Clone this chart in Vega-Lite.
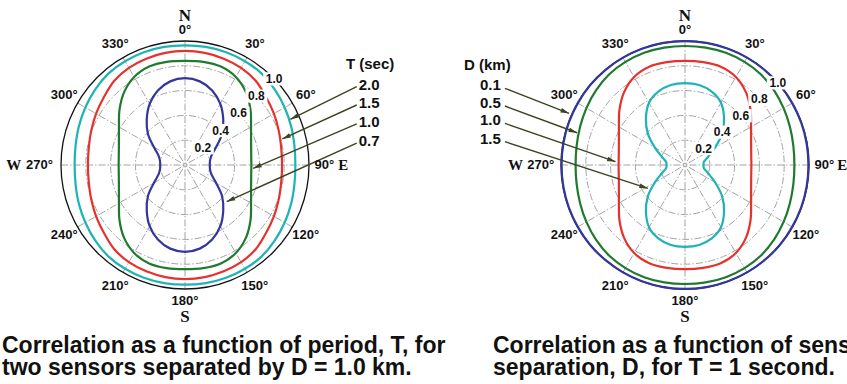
{
  "$schema": "https://vega.github.io/schema/vega-lite/v6.json",
  "background": "white",
  "padding": 0,
  "spacing": 153,
  "bounds": "flush",
  "config": {
    "view": {"stroke": null},
    "title": {"font": "Liberation Sans", "fontSize": 23, "fontWeight": "bold", "color": "#111111", "anchor": "start", "frame": "group", "orient": "bottom", "lineHeight": 22, "offset": 5, "baseline": "top"},
    "text": {"font": "Liberation Sans", "fontWeight": "bold", "color": "#111111"}
  },
  "datasets": {
    "rings": [{"r": 0.2}, {"r": 0.4}, {"r": 0.6}, {"r": 0.8}],
    "outer": [{"r": 1}],
    "spokes": [{"a": 0}, {"a": 30}, {"a": 60}, {"a": 90}, {"a": 120}, {"a": 150}, {"a": 180}, {"a": 210}, {"a": 240}, {"a": 270}, {"a": 300}, {"a": 330}],
    "rlabels": [{"v": 0.2}, {"v": 0.4}, {"v": 0.6}, {"v": 0.8}, {"v": 1.0}],
    "degrees": [{"a": 30, "t": "30°"}, {"a": 60, "t": "60°"}, {"a": 120, "t": "120°"}, {"a": 150, "t": "150°"}, {"a": 210, "t": "210°"}, {"a": 240, "t": "240°"}, {"a": 300, "t": "300°"}, {"a": 330, "t": "330°"}],
    "left_keys": [
      {"period": "2.0", "x1": 1.385, "y1": 0.633, "x2": 0.85, "y2": 0.369},
      {"period": "1.5", "x1": 1.385, "y1": 0.484, "x2": 0.785, "y2": 0.21},
      {"period": "1.0", "x1": 1.385, "y1": 0.331, "x2": 0.55, "y2": -0.027},
      {"period": "0.7", "x1": 1.385, "y1": 0.177, "x2": 0.336, "y2": -0.296}
    ],
    "right_keys": [
      {"sep": "0.1", "x1": -1.452, "y1": 0.618, "x2": -0.935, "y2": 0.417},
      {"sep": "0.5", "x1": -1.452, "y1": 0.476, "x2": -0.87, "y2": 0.26},
      {"sep": "1.0", "x1": -1.452, "y1": 0.336, "x2": -0.56, "y2": 0.027},
      {"sep": "1.5", "x1": -1.452, "y1": 0.188, "x2": -0.3, "y2": -0.188}
    ],
    "left_curves": [
      {"period": "2.0", "a": 0, "r": 0.965}, {"period": "2.0", "a": 10, "r": 0.967}, {"period": "2.0", "a": 20, "r": 0.968}, {"period": "2.0", "a": 30, "r": 0.967}, {"period": "2.0", "a": 40, "r": 0.962}, {"period": "2.0", "a": 50, "r": 0.946}, {"period": "2.0", "a": 60, "r": 0.928}, {"period": "2.0", "a": 70, "r": 0.911}, {"period": "2.0", "a": 80, "r": 0.896}, {"period": "2.0", "a": 90, "r": 0.89},
      {"period": "2.0", "a": 100, "r": 0.896}, {"period": "2.0", "a": 110, "r": 0.911}, {"period": "2.0", "a": 120, "r": 0.928}, {"period": "2.0", "a": 130, "r": 0.946}, {"period": "2.0", "a": 140, "r": 0.962}, {"period": "2.0", "a": 150, "r": 0.967}, {"period": "2.0", "a": 160, "r": 0.968}, {"period": "2.0", "a": 170, "r": 0.967}, {"period": "2.0", "a": 180, "r": 0.965},
      {"period": "2.0", "a": 190, "r": 0.967}, {"period": "2.0", "a": 200, "r": 0.968}, {"period": "2.0", "a": 210, "r": 0.967}, {"period": "2.0", "a": 220, "r": 0.962}, {"period": "2.0", "a": 230, "r": 0.946}, {"period": "2.0", "a": 240, "r": 0.928}, {"period": "2.0", "a": 250, "r": 0.911}, {"period": "2.0", "a": 260, "r": 0.896}, {"period": "2.0", "a": 270, "r": 0.89},
      {"period": "2.0", "a": 280, "r": 0.896}, {"period": "2.0", "a": 290, "r": 0.911}, {"period": "2.0", "a": 300, "r": 0.928}, {"period": "2.0", "a": 310, "r": 0.946}, {"period": "2.0", "a": 320, "r": 0.962}, {"period": "2.0", "a": 330, "r": 0.967}, {"period": "2.0", "a": 340, "r": 0.968}, {"period": "2.0", "a": 350, "r": 0.967},

      {"period": "1.5", "a": 0, "r": 0.92}, {"period": "1.5", "a": 10, "r": 0.918}, {"period": "1.5", "a": 20, "r": 0.913}, {"period": "1.5", "a": 30, "r": 0.905}, {"period": "1.5", "a": 40, "r": 0.887}, {"period": "1.5", "a": 50, "r": 0.853}, {"period": "1.5", "a": 60, "r": 0.828}, {"period": "1.5", "a": 70, "r": 0.805}, {"period": "1.5", "a": 80, "r": 0.788}, {"period": "1.5", "a": 90, "r": 0.783},
      {"period": "1.5", "a": 100, "r": 0.788}, {"period": "1.5", "a": 110, "r": 0.805}, {"period": "1.5", "a": 120, "r": 0.828}, {"period": "1.5", "a": 130, "r": 0.853}, {"period": "1.5", "a": 140, "r": 0.887}, {"period": "1.5", "a": 150, "r": 0.905}, {"period": "1.5", "a": 160, "r": 0.913}, {"period": "1.5", "a": 170, "r": 0.918}, {"period": "1.5", "a": 180, "r": 0.92},
      {"period": "1.5", "a": 190, "r": 0.918}, {"period": "1.5", "a": 200, "r": 0.913}, {"period": "1.5", "a": 210, "r": 0.905}, {"period": "1.5", "a": 220, "r": 0.887}, {"period": "1.5", "a": 230, "r": 0.853}, {"period": "1.5", "a": 240, "r": 0.828}, {"period": "1.5", "a": 250, "r": 0.805}, {"period": "1.5", "a": 260, "r": 0.788}, {"period": "1.5", "a": 270, "r": 0.783},
      {"period": "1.5", "a": 280, "r": 0.788}, {"period": "1.5", "a": 290, "r": 0.805}, {"period": "1.5", "a": 300, "r": 0.828}, {"period": "1.5", "a": 310, "r": 0.853}, {"period": "1.5", "a": 320, "r": 0.887}, {"period": "1.5", "a": 330, "r": 0.905}, {"period": "1.5", "a": 340, "r": 0.913}, {"period": "1.5", "a": 350, "r": 0.918},

      {"period": "1.0", "a": 0, "r": 0.84}, {"period": "1.0", "a": 10, "r": 0.845}, {"period": "1.0", "a": 20, "r": 0.845}, {"period": "1.0", "a": 30, "r": 0.82}, {"period": "1.0", "a": 40, "r": 0.765}, {"period": "1.0", "a": 50, "r": 0.69}, {"period": "1.0", "a": 60, "r": 0.615}, {"period": "1.0", "a": 70, "r": 0.567}, {"period": "1.0", "a": 80, "r": 0.542}, {"period": "1.0", "a": 90, "r": 0.535},
      {"period": "1.0", "a": 100, "r": 0.542}, {"period": "1.0", "a": 110, "r": 0.567}, {"period": "1.0", "a": 120, "r": 0.615}, {"period": "1.0", "a": 130, "r": 0.69}, {"period": "1.0", "a": 140, "r": 0.765}, {"period": "1.0", "a": 150, "r": 0.82}, {"period": "1.0", "a": 160, "r": 0.845}, {"period": "1.0", "a": 170, "r": 0.845}, {"period": "1.0", "a": 180, "r": 0.84},
      {"period": "1.0", "a": 190, "r": 0.845}, {"period": "1.0", "a": 200, "r": 0.845}, {"period": "1.0", "a": 210, "r": 0.82}, {"period": "1.0", "a": 220, "r": 0.765}, {"period": "1.0", "a": 230, "r": 0.69}, {"period": "1.0", "a": 240, "r": 0.615}, {"period": "1.0", "a": 250, "r": 0.567}, {"period": "1.0", "a": 260, "r": 0.542}, {"period": "1.0", "a": 270, "r": 0.535},
      {"period": "1.0", "a": 280, "r": 0.542}, {"period": "1.0", "a": 290, "r": 0.567}, {"period": "1.0", "a": 300, "r": 0.615}, {"period": "1.0", "a": 310, "r": 0.69}, {"period": "1.0", "a": 320, "r": 0.765}, {"period": "1.0", "a": 330, "r": 0.82}, {"period": "1.0", "a": 340, "r": 0.845}, {"period": "1.0", "a": 350, "r": 0.845},

      {"period": "0.7", "a": 0, "r": 0.7}, {"period": "0.7", "a": 10, "r": 0.685}, {"period": "0.7", "a": 20, "r": 0.64}, {"period": "0.7", "a": 30, "r": 0.57}, {"period": "0.7", "a": 40, "r": 0.48}, {"period": "0.7", "a": 50, "r": 0.39}, {"period": "0.7", "a": 60, "r": 0.29}, {"period": "0.7", "a": 70, "r": 0.228}, {"period": "0.7", "a": 80, "r": 0.205}, {"period": "0.7", "a": 90, "r": 0.2},
      {"period": "0.7", "a": 100, "r": 0.205}, {"period": "0.7", "a": 110, "r": 0.228}, {"period": "0.7", "a": 120, "r": 0.29}, {"period": "0.7", "a": 130, "r": 0.39}, {"period": "0.7", "a": 140, "r": 0.48}, {"period": "0.7", "a": 150, "r": 0.57}, {"period": "0.7", "a": 160, "r": 0.64}, {"period": "0.7", "a": 170, "r": 0.685}, {"period": "0.7", "a": 180, "r": 0.7},
      {"period": "0.7", "a": 190, "r": 0.685}, {"period": "0.7", "a": 200, "r": 0.64}, {"period": "0.7", "a": 210, "r": 0.57}, {"period": "0.7", "a": 220, "r": 0.48}, {"period": "0.7", "a": 230, "r": 0.39}, {"period": "0.7", "a": 240, "r": 0.29}, {"period": "0.7", "a": 250, "r": 0.228}, {"period": "0.7", "a": 260, "r": 0.205}, {"period": "0.7", "a": 270, "r": 0.2},
      {"period": "0.7", "a": 280, "r": 0.205}, {"period": "0.7", "a": 290, "r": 0.228}, {"period": "0.7", "a": 300, "r": 0.29}, {"period": "0.7", "a": 310, "r": 0.39}, {"period": "0.7", "a": 320, "r": 0.48}, {"period": "0.7", "a": 330, "r": 0.57}, {"period": "0.7", "a": 340, "r": 0.64}, {"period": "0.7", "a": 350, "r": 0.685}
    ],
    "right_curves": [
      {"sep": "0.1", "a": 0, "r": 1.0}, {"sep": "0.1", "a": 10, "r": 1.0}, {"sep": "0.1", "a": 20, "r": 1.0}, {"sep": "0.1", "a": 30, "r": 1.0}, {"sep": "0.1", "a": 40, "r": 1.0}, {"sep": "0.1", "a": 50, "r": 1.0}, {"sep": "0.1", "a": 60, "r": 0.998}, {"sep": "0.1", "a": 70, "r": 0.997}, {"sep": "0.1", "a": 80, "r": 0.996}, {"sep": "0.1", "a": 90, "r": 0.995},
      {"sep": "0.1", "a": 100, "r": 0.996}, {"sep": "0.1", "a": 110, "r": 0.997}, {"sep": "0.1", "a": 120, "r": 0.998}, {"sep": "0.1", "a": 130, "r": 1.0}, {"sep": "0.1", "a": 140, "r": 1.0}, {"sep": "0.1", "a": 150, "r": 1.0}, {"sep": "0.1", "a": 160, "r": 1.0}, {"sep": "0.1", "a": 170, "r": 1.0}, {"sep": "0.1", "a": 180, "r": 1.0},
      {"sep": "0.1", "a": 190, "r": 1.0}, {"sep": "0.1", "a": 200, "r": 1.0}, {"sep": "0.1", "a": 210, "r": 1.0}, {"sep": "0.1", "a": 220, "r": 1.0}, {"sep": "0.1", "a": 230, "r": 1.0}, {"sep": "0.1", "a": 240, "r": 0.998}, {"sep": "0.1", "a": 250, "r": 0.997}, {"sep": "0.1", "a": 260, "r": 0.996}, {"sep": "0.1", "a": 270, "r": 0.995},
      {"sep": "0.1", "a": 280, "r": 0.996}, {"sep": "0.1", "a": 290, "r": 0.997}, {"sep": "0.1", "a": 300, "r": 0.998}, {"sep": "0.1", "a": 310, "r": 1.0}, {"sep": "0.1", "a": 320, "r": 1.0}, {"sep": "0.1", "a": 330, "r": 1.0}, {"sep": "0.1", "a": 340, "r": 1.0}, {"sep": "0.1", "a": 350, "r": 1.0},

      {"sep": "0.5", "a": 0, "r": 0.96}, {"sep": "0.5", "a": 10, "r": 0.962}, {"sep": "0.5", "a": 20, "r": 0.963}, {"sep": "0.5", "a": 30, "r": 0.96}, {"sep": "0.5", "a": 40, "r": 0.953}, {"sep": "0.5", "a": 50, "r": 0.937}, {"sep": "0.5", "a": 60, "r": 0.918}, {"sep": "0.5", "a": 70, "r": 0.9}, {"sep": "0.5", "a": 80, "r": 0.887}, {"sep": "0.5", "a": 90, "r": 0.882},
      {"sep": "0.5", "a": 100, "r": 0.887}, {"sep": "0.5", "a": 110, "r": 0.9}, {"sep": "0.5", "a": 120, "r": 0.918}, {"sep": "0.5", "a": 130, "r": 0.937}, {"sep": "0.5", "a": 140, "r": 0.953}, {"sep": "0.5", "a": 150, "r": 0.96}, {"sep": "0.5", "a": 160, "r": 0.963}, {"sep": "0.5", "a": 170, "r": 0.962}, {"sep": "0.5", "a": 180, "r": 0.96},
      {"sep": "0.5", "a": 190, "r": 0.962}, {"sep": "0.5", "a": 200, "r": 0.963}, {"sep": "0.5", "a": 210, "r": 0.96}, {"sep": "0.5", "a": 220, "r": 0.953}, {"sep": "0.5", "a": 230, "r": 0.937}, {"sep": "0.5", "a": 240, "r": 0.918}, {"sep": "0.5", "a": 250, "r": 0.9}, {"sep": "0.5", "a": 260, "r": 0.887}, {"sep": "0.5", "a": 270, "r": 0.882},
      {"sep": "0.5", "a": 280, "r": 0.887}, {"sep": "0.5", "a": 290, "r": 0.9}, {"sep": "0.5", "a": 300, "r": 0.918}, {"sep": "0.5", "a": 310, "r": 0.937}, {"sep": "0.5", "a": 320, "r": 0.953}, {"sep": "0.5", "a": 330, "r": 0.96}, {"sep": "0.5", "a": 340, "r": 0.963}, {"sep": "0.5", "a": 350, "r": 0.962},

      {"sep": "1.0", "a": 0, "r": 0.84}, {"sep": "1.0", "a": 10, "r": 0.842}, {"sep": "1.0", "a": 20, "r": 0.843}, {"sep": "1.0", "a": 30, "r": 0.82}, {"sep": "1.0", "a": 40, "r": 0.765}, {"sep": "1.0", "a": 50, "r": 0.69}, {"sep": "1.0", "a": 60, "r": 0.615}, {"sep": "1.0", "a": 70, "r": 0.567}, {"sep": "1.0", "a": 80, "r": 0.542}, {"sep": "1.0", "a": 90, "r": 0.535},
      {"sep": "1.0", "a": 100, "r": 0.542}, {"sep": "1.0", "a": 110, "r": 0.567}, {"sep": "1.0", "a": 120, "r": 0.615}, {"sep": "1.0", "a": 130, "r": 0.69}, {"sep": "1.0", "a": 140, "r": 0.765}, {"sep": "1.0", "a": 150, "r": 0.82}, {"sep": "1.0", "a": 160, "r": 0.843}, {"sep": "1.0", "a": 170, "r": 0.842}, {"sep": "1.0", "a": 180, "r": 0.84},
      {"sep": "1.0", "a": 190, "r": 0.842}, {"sep": "1.0", "a": 200, "r": 0.843}, {"sep": "1.0", "a": 210, "r": 0.82}, {"sep": "1.0", "a": 220, "r": 0.765}, {"sep": "1.0", "a": 230, "r": 0.69}, {"sep": "1.0", "a": 240, "r": 0.615}, {"sep": "1.0", "a": 250, "r": 0.567}, {"sep": "1.0", "a": 260, "r": 0.542}, {"sep": "1.0", "a": 270, "r": 0.535},
      {"sep": "1.0", "a": 280, "r": 0.542}, {"sep": "1.0", "a": 290, "r": 0.567}, {"sep": "1.0", "a": 300, "r": 0.615}, {"sep": "1.0", "a": 310, "r": 0.69}, {"sep": "1.0", "a": 320, "r": 0.765}, {"sep": "1.0", "a": 330, "r": 0.82}, {"sep": "1.0", "a": 340, "r": 0.843}, {"sep": "1.0", "a": 350, "r": 0.842},

      {"sep": "1.5", "a": 0, "r": 0.66}, {"sep": "1.5", "a": 10, "r": 0.655}, {"sep": "1.5", "a": 20, "r": 0.63}, {"sep": "1.5", "a": 30, "r": 0.58}, {"sep": "1.5", "a": 40, "r": 0.49}, {"sep": "1.5", "a": 50, "r": 0.39}, {"sep": "1.5", "a": 60, "r": 0.28}, {"sep": "1.5", "a": 70, "r": 0.2}, {"sep": "1.5", "a": 80, "r": 0.155}, {"sep": "1.5", "a": 90, "r": 0.15},
      {"sep": "1.5", "a": 100, "r": 0.155}, {"sep": "1.5", "a": 110, "r": 0.2}, {"sep": "1.5", "a": 120, "r": 0.28}, {"sep": "1.5", "a": 130, "r": 0.39}, {"sep": "1.5", "a": 140, "r": 0.49}, {"sep": "1.5", "a": 150, "r": 0.58}, {"sep": "1.5", "a": 160, "r": 0.63}, {"sep": "1.5", "a": 170, "r": 0.655}, {"sep": "1.5", "a": 180, "r": 0.66},
      {"sep": "1.5", "a": 190, "r": 0.655}, {"sep": "1.5", "a": 200, "r": 0.63}, {"sep": "1.5", "a": 210, "r": 0.58}, {"sep": "1.5", "a": 220, "r": 0.49}, {"sep": "1.5", "a": 230, "r": 0.39}, {"sep": "1.5", "a": 240, "r": 0.28}, {"sep": "1.5", "a": 250, "r": 0.2}, {"sep": "1.5", "a": 260, "r": 0.155}, {"sep": "1.5", "a": 270, "r": 0.15},
      {"sep": "1.5", "a": 280, "r": 0.155}, {"sep": "1.5", "a": 290, "r": 0.2}, {"sep": "1.5", "a": 300, "r": 0.28}, {"sep": "1.5", "a": 310, "r": 0.39}, {"sep": "1.5", "a": 320, "r": 0.49}, {"sep": "1.5", "a": 330, "r": 0.58}, {"sep": "1.5", "a": 340, "r": 0.63}, {"sep": "1.5", "a": 350, "r": 0.655}
    ]
  },
  "resolve": {"scale": {"x": "independent", "y": "independent", "color": "independent"}},
  "hconcat": [
    {
      "width": 370,
      "height": 330,
      "title": {"text": ["Correlation as a function of period, T, for", "two sensors separated by D = 1.0 km."], "dx": 2},
      "data": {"values": [{}]},
      "layer": [
        {
          "data": {"name": "rings"},
          "mark": {"type": "point", "shape": "circle", "filled": false, "fill": null, "stroke": "#8c8c8c", "strokeWidth": 0.8, "strokeDash": [7, 2, 1.5, 2], "opacity": 1},
          "encoding": {
            "x": {"datum": 0, "type": "quantitative", "scale": {"domain": [-1.492, 1.492]}, "axis": null},
            "y": {"datum": 0, "type": "quantitative", "scale": {"domain": [-1.331, 1.331]}, "axis": null},
            "size": {"field": "r", "type": "quantitative", "scale": {"type": "pow", "exponent": 2, "domain": [0, 1], "range": [0, 61504]}, "legend": null}
          }
        },
        {
          "data": {"name": "spokes"},
          "transform": [
            {"calculate": "sin(datum.a * PI / 180)", "as": "ex"},
            {"calculate": "cos(datum.a * PI / 180)", "as": "ey"}
          ],
          "mark": {"type": "rule", "stroke": "#8c8c8c", "strokeWidth": 0.8, "strokeDash": [7, 2, 1.5, 2]},
          "encoding": {
            "x": {"field": "ex", "type": "quantitative", "scale": {"domain": [-1.492, 1.492]}, "axis": null},
            "y": {"field": "ey", "type": "quantitative", "scale": {"domain": [-1.331, 1.331]}, "axis": null},
            "x2": {"datum": 0},
            "y2": {"datum": 0}
          }
        },
        {
          "data": {"name": "outer"},
          "mark": {"type": "point", "shape": "circle", "filled": false, "fill": null, "stroke": "#111111", "strokeWidth": 1.3, "opacity": 1},
          "encoding": {
            "x": {"datum": 0, "type": "quantitative", "scale": {"domain": [-1.492, 1.492]}, "axis": null},
            "y": {"datum": 0, "type": "quantitative", "scale": {"domain": [-1.331, 1.331]}, "axis": null},
            "size": {"field": "r", "type": "quantitative", "scale": {"type": "pow", "exponent": 2, "domain": [0, 1], "range": [0, 61504]}, "legend": null}
          }
        },
        {
          "data": {"name": "left_curves"},
          "transform": [
            {"calculate": "datum.r * sin(datum.a * PI / 180)", "as": "x"},
            {"calculate": "datum.r * cos(datum.a * PI / 180)", "as": "y"}
          ],
          "mark": {"type": "line", "interpolate": "cardinal-closed", "strokeWidth": 2.2},
          "encoding": {
            "x": {"field": "x", "type": "quantitative", "scale": {"domain": [-1.492, 1.492]}, "axis": null},
            "y": {"field": "y", "type": "quantitative", "scale": {"domain": [-1.331, 1.331]}, "axis": null},
            "color": {"field": "period", "type": "nominal", "scale": {"domain": ["2.0", "1.5", "1.0", "0.7"], "range": ["#1fb3b5", "#e4322d", "#1f7a30", "#33369a"]}, "legend": null},
            "order": {"field": "a", "type": "quantitative"}
          }
        },
        {
          "data": {"name": "left_keys"},
          "mark": {"type": "rule", "stroke": "#3a4522", "strokeWidth": 1.4},
          "encoding": {
            "x": {"field": "x1", "type": "quantitative", "scale": {"domain": [-1.492, 1.492]}, "axis": null},
            "y": {"field": "y1", "type": "quantitative", "scale": {"domain": [-1.331, 1.331]}, "axis": null},
            "x2": {"field": "x2"},
            "y2": {"field": "y2"}
          }
        },
        {
          "data": {"name": "left_keys"},
          "transform": [{"calculate": "atan2(datum.y1 - datum.y2, datum.x2 - datum.x1) * 180 / PI + 90", "as": "heading"}],
          "mark": {"type": "point", "shape": "M0,0L-0.55,2L0.55,2Z", "filled": true, "fill": "#3a4522", "size": 72, "opacity": 1},
          "encoding": {
            "x": {"field": "x2", "type": "quantitative", "scale": {"domain": [-1.492, 1.492]}, "axis": null},
            "y": {"field": "y2", "type": "quantitative", "scale": {"domain": [-1.331, 1.331]}, "axis": null},
            "angle": {"field": "heading", "type": "quantitative", "scale": null}
          }
        },
        {
          "data": {"name": "rlabels"},
          "transform": [
            {"calculate": "datum.v * sin(46 * PI / 180)", "as": "x"},
            {"calculate": "datum.v * cos(46 * PI / 180)", "as": "y"}
          ],
          "mark": {"type": "point", "shape": "M-1,-0.6H1V0.6H-1Z", "filled": true, "fill": "white", "size": 484, "opacity": 1},
          "encoding": {
            "x": {"field": "x", "type": "quantitative", "scale": {"domain": [-1.492, 1.492]}, "axis": null},
            "y": {"field": "y", "type": "quantitative", "scale": {"domain": [-1.331, 1.331]}, "axis": null}
          }
        },
        {
          "data": {"name": "rlabels"},
          "transform": [
            {"calculate": "datum.v * sin(46 * PI / 180)", "as": "x"},
            {"calculate": "datum.v * cos(46 * PI / 180)", "as": "y"}
          ],
          "mark": {"type": "text", "fontSize": 12, "align": "center", "baseline": "middle"},
          "encoding": {
            "x": {"field": "x", "type": "quantitative", "scale": {"domain": [-1.492, 1.492]}, "axis": null},
            "y": {"field": "y", "type": "quantitative", "scale": {"domain": [-1.331, 1.331]}, "axis": null},
            "text": {"field": "v", "type": "quantitative", "format": ".1f"}
          }
        },
        {
          "data": {"name": "degrees"},
          "transform": [
            {"calculate": "1.125 * sin(datum.a * PI / 180)", "as": "x"},
            {"calculate": "1.125 * cos(datum.a * PI / 180)", "as": "y"}
          ],
          "mark": {"type": "text", "fontSize": 13, "align": "center", "baseline": "middle"},
          "encoding": {
            "x": {"field": "x", "type": "quantitative", "scale": {"domain": [-1.492, 1.492]}, "axis": null},
            "y": {"field": "y", "type": "quantitative", "scale": {"domain": [-1.331, 1.331]}, "axis": null},
            "text": {"field": "t"}
          }
        },
        {
          "mark": {"type": "text", "text": "0°", "fontSize": 13, "align": "center", "baseline": "middle"},
          "encoding": {
            "x": {"datum": 0, "type": "quantitative", "scale": {"domain": [-1.492, 1.492]}, "axis": null},
            "y": {"datum": 1.085, "type": "quantitative", "scale": {"domain": [-1.331, 1.331]}, "axis": null}
          }
        },
        {
          "mark": {"type": "text", "text": "180°", "fontSize": 13, "align": "center", "baseline": "middle"},
          "encoding": {
            "x": {"datum": 0, "type": "quantitative", "scale": {"domain": [-1.492, 1.492]}, "axis": null},
            "y": {"datum": -1.1, "type": "quantitative", "scale": {"domain": [-1.331, 1.331]}, "axis": null}
          }
        },
        {
          "mark": {"type": "text", "text": "90°", "fontSize": 13, "align": "left", "baseline": "middle"},
          "encoding": {
            "x": {"datum": 1.045, "type": "quantitative", "scale": {"domain": [-1.492, 1.492]}, "axis": null},
            "y": {"datum": 0, "type": "quantitative", "scale": {"domain": [-1.331, 1.331]}, "axis": null}
          }
        },
        {
          "mark": {"type": "text", "text": "270°", "fontSize": 13, "align": "right", "baseline": "middle"},
          "encoding": {
            "x": {"datum": -1.065, "type": "quantitative", "scale": {"domain": [-1.492, 1.492]}, "axis": null},
            "y": {"datum": 0, "type": "quantitative", "scale": {"domain": [-1.331, 1.331]}, "axis": null}
          }
        },
        {
          "mark": {"type": "text", "text": "N", "font": "Liberation Serif", "fontSize": 17, "align": "center", "baseline": "middle"},
          "encoding": {
            "x": {"datum": 0, "type": "quantitative", "scale": {"domain": [-1.492, 1.492]}, "axis": null},
            "y": {"datum": 1.2, "type": "quantitative", "scale": {"domain": [-1.331, 1.331]}, "axis": null}
          }
        },
        {
          "mark": {"type": "text", "text": "S", "font": "Liberation Serif", "fontSize": 17, "align": "center", "baseline": "middle"},
          "encoding": {
            "x": {"datum": 0, "type": "quantitative", "scale": {"domain": [-1.492, 1.492]}, "axis": null},
            "y": {"datum": -1.23, "type": "quantitative", "scale": {"domain": [-1.331, 1.331]}, "axis": null}
          }
        },
        {
          "mark": {"type": "text", "text": "E", "font": "Liberation Serif", "fontSize": 15, "align": "left", "baseline": "middle"},
          "encoding": {
            "x": {"datum": 1.235, "type": "quantitative", "scale": {"domain": [-1.492, 1.492]}, "axis": null},
            "y": {"datum": 0, "type": "quantitative", "scale": {"domain": [-1.331, 1.331]}, "axis": null}
          }
        },
        {
          "mark": {"type": "text", "text": "W", "font": "Liberation Serif", "fontSize": 15, "align": "right", "baseline": "middle"},
          "encoding": {
            "x": {"datum": -1.32, "type": "quantitative", "scale": {"domain": [-1.492, 1.492]}, "axis": null},
            "y": {"datum": 0, "type": "quantitative", "scale": {"domain": [-1.331, 1.331]}, "axis": null}
          }
        },
        {
          "data": {"name": "left_keys"},
          "mark": {"type": "text", "fontSize": 15, "align": "left", "baseline": "middle", "dx": 2, "dy": -2},
          "encoding": {
            "x": {"field": "x1", "type": "quantitative", "scale": {"domain": [-1.492, 1.492]}, "axis": null},
            "y": {"field": "y1", "type": "quantitative", "scale": {"domain": [-1.331, 1.331]}, "axis": null},
            "text": {"field": "period"}
          }
        },
        {
          "mark": {"type": "text", "text": "T (sec)", "fontSize": 15, "align": "left", "baseline": "middle"},
          "encoding": {
            "x": {"datum": 1.298, "type": "quantitative", "scale": {"domain": [-1.492, 1.492]}, "axis": null},
            "y": {"datum": 0.815, "type": "quantitative", "scale": {"domain": [-1.331, 1.331]}, "axis": null}
          }
        }
      ]
    },
    {
      "width": 324,
      "height": 330,
      "title": {"text": ["Correlation as a function of sensor", "separation, D, for T = 1 second."], "dx": -30},
      "data": {"values": [{}]},
      "layer": [
        {
          "data": {"name": "rings"},
          "mark": {"type": "point", "shape": "circle", "filled": false, "fill": null, "stroke": "#8c8c8c", "strokeWidth": 0.8, "strokeDash": [7, 2, 1.5, 2], "opacity": 1},
          "encoding": {
            "x": {"datum": 0, "type": "quantitative", "scale": {"domain": [-1.306, 1.306]}, "axis": null},
            "y": {"datum": 0, "type": "quantitative", "scale": {"domain": [-1.331, 1.331]}, "axis": null},
            "size": {"field": "r", "type": "quantitative", "scale": {"type": "pow", "exponent": 2, "domain": [0, 1], "range": [0, 61504]}, "legend": null}
          }
        },
        {
          "data": {"name": "spokes"},
          "transform": [
            {"calculate": "sin(datum.a * PI / 180)", "as": "ex"},
            {"calculate": "cos(datum.a * PI / 180)", "as": "ey"}
          ],
          "mark": {"type": "rule", "stroke": "#8c8c8c", "strokeWidth": 0.8, "strokeDash": [7, 2, 1.5, 2]},
          "encoding": {
            "x": {"field": "ex", "type": "quantitative", "scale": {"domain": [-1.306, 1.306]}, "axis": null},
            "y": {"field": "ey", "type": "quantitative", "scale": {"domain": [-1.331, 1.331]}, "axis": null},
            "x2": {"datum": 0},
            "y2": {"datum": 0}
          }
        },
        {
          "data": {"name": "outer"},
          "mark": {"type": "point", "shape": "circle", "filled": false, "fill": null, "stroke": "#111111", "strokeWidth": 1.3, "opacity": 1},
          "encoding": {
            "x": {"datum": 0, "type": "quantitative", "scale": {"domain": [-1.306, 1.306]}, "axis": null},
            "y": {"datum": 0, "type": "quantitative", "scale": {"domain": [-1.331, 1.331]}, "axis": null},
            "size": {"field": "r", "type": "quantitative", "scale": {"type": "pow", "exponent": 2, "domain": [0, 1], "range": [0, 61504]}, "legend": null}
          }
        },
        {
          "data": {"name": "right_curves"},
          "transform": [
            {"calculate": "datum.r * sin(datum.a * PI / 180)", "as": "x"},
            {"calculate": "datum.r * cos(datum.a * PI / 180)", "as": "y"}
          ],
          "mark": {"type": "line", "interpolate": "cardinal-closed", "strokeWidth": 2.2},
          "encoding": {
            "x": {"field": "x", "type": "quantitative", "scale": {"domain": [-1.306, 1.306]}, "axis": null},
            "y": {"field": "y", "type": "quantitative", "scale": {"domain": [-1.331, 1.331]}, "axis": null},
            "color": {"field": "sep", "type": "nominal", "scale": {"domain": ["0.1", "0.5", "1.0", "1.5"], "range": ["#33369a", "#1f7a30", "#e4322d", "#1fb3b5"]}, "legend": null},
            "order": {"field": "a", "type": "quantitative"}
          }
        },
        {
          "data": {"name": "right_keys"},
          "mark": {"type": "rule", "stroke": "#3a4522", "strokeWidth": 1.4},
          "encoding": {
            "x": {"field": "x1", "type": "quantitative", "scale": {"domain": [-1.306, 1.306]}, "axis": null},
            "y": {"field": "y1", "type": "quantitative", "scale": {"domain": [-1.331, 1.331]}, "axis": null},
            "x2": {"field": "x2"},
            "y2": {"field": "y2"}
          }
        },
        {
          "data": {"name": "right_keys"},
          "transform": [{"calculate": "atan2(datum.y1 - datum.y2, datum.x2 - datum.x1) * 180 / PI + 90", "as": "heading"}],
          "mark": {"type": "point", "shape": "M0,0L-0.55,2L0.55,2Z", "filled": true, "fill": "#3a4522", "size": 72, "opacity": 1},
          "encoding": {
            "x": {"field": "x2", "type": "quantitative", "scale": {"domain": [-1.306, 1.306]}, "axis": null},
            "y": {"field": "y2", "type": "quantitative", "scale": {"domain": [-1.331, 1.331]}, "axis": null},
            "angle": {"field": "heading", "type": "quantitative", "scale": null}
          }
        },
        {
          "data": {"name": "rlabels"},
          "transform": [
            {"calculate": "datum.v * sin(48.5 * PI / 180)", "as": "x"},
            {"calculate": "datum.v * cos(48.5 * PI / 180)", "as": "y"}
          ],
          "mark": {"type": "point", "shape": "M-1,-0.6H1V0.6H-1Z", "filled": true, "fill": "white", "size": 484, "opacity": 1},
          "encoding": {
            "x": {"field": "x", "type": "quantitative", "scale": {"domain": [-1.306, 1.306]}, "axis": null},
            "y": {"field": "y", "type": "quantitative", "scale": {"domain": [-1.331, 1.331]}, "axis": null}
          }
        },
        {
          "data": {"name": "rlabels"},
          "transform": [
            {"calculate": "datum.v * sin(48.5 * PI / 180)", "as": "x"},
            {"calculate": "datum.v * cos(48.5 * PI / 180)", "as": "y"}
          ],
          "mark": {"type": "text", "fontSize": 12, "align": "center", "baseline": "middle"},
          "encoding": {
            "x": {"field": "x", "type": "quantitative", "scale": {"domain": [-1.306, 1.306]}, "axis": null},
            "y": {"field": "y", "type": "quantitative", "scale": {"domain": [-1.331, 1.331]}, "axis": null},
            "text": {"field": "v", "type": "quantitative", "format": ".1f"}
          }
        },
        {
          "data": {"name": "degrees"},
          "transform": [
            {"calculate": "1.125 * sin(datum.a * PI / 180)", "as": "x"},
            {"calculate": "1.125 * cos(datum.a * PI / 180)", "as": "y"}
          ],
          "mark": {"type": "text", "fontSize": 13, "align": "center", "baseline": "middle"},
          "encoding": {
            "x": {"field": "x", "type": "quantitative", "scale": {"domain": [-1.306, 1.306]}, "axis": null},
            "y": {"field": "y", "type": "quantitative", "scale": {"domain": [-1.331, 1.331]}, "axis": null},
            "text": {"field": "t"}
          }
        },
        {
          "mark": {"type": "text", "text": "0°", "fontSize": 13, "align": "center", "baseline": "middle"},
          "encoding": {
            "x": {"datum": 0, "type": "quantitative", "scale": {"domain": [-1.306, 1.306]}, "axis": null},
            "y": {"datum": 1.085, "type": "quantitative", "scale": {"domain": [-1.331, 1.331]}, "axis": null}
          }
        },
        {
          "mark": {"type": "text", "text": "180°", "fontSize": 13, "align": "center", "baseline": "middle"},
          "encoding": {
            "x": {"datum": 0, "type": "quantitative", "scale": {"domain": [-1.306, 1.306]}, "axis": null},
            "y": {"datum": -1.1, "type": "quantitative", "scale": {"domain": [-1.331, 1.331]}, "axis": null}
          }
        },
        {
          "mark": {"type": "text", "text": "90°", "fontSize": 13, "align": "left", "baseline": "middle"},
          "encoding": {
            "x": {"datum": 1.045, "type": "quantitative", "scale": {"domain": [-1.306, 1.306]}, "axis": null},
            "y": {"datum": 0, "type": "quantitative", "scale": {"domain": [-1.331, 1.331]}, "axis": null}
          }
        },
        {
          "mark": {"type": "text", "text": "270°", "fontSize": 13, "align": "right", "baseline": "middle"},
          "encoding": {
            "x": {"datum": -1.055, "type": "quantitative", "scale": {"domain": [-1.306, 1.306]}, "axis": null},
            "y": {"datum": 0, "type": "quantitative", "scale": {"domain": [-1.331, 1.331]}, "axis": null}
          }
        },
        {
          "mark": {"type": "text", "text": "N", "font": "Liberation Serif", "fontSize": 17, "align": "center", "baseline": "middle"},
          "encoding": {
            "x": {"datum": 0, "type": "quantitative", "scale": {"domain": [-1.306, 1.306]}, "axis": null},
            "y": {"datum": 1.2, "type": "quantitative", "scale": {"domain": [-1.331, 1.331]}, "axis": null}
          }
        },
        {
          "mark": {"type": "text", "text": "S", "font": "Liberation Serif", "fontSize": 17, "align": "center", "baseline": "middle"},
          "encoding": {
            "x": {"datum": 0, "type": "quantitative", "scale": {"domain": [-1.306, 1.306]}, "axis": null},
            "y": {"datum": -1.23, "type": "quantitative", "scale": {"domain": [-1.331, 1.331]}, "axis": null}
          }
        },
        {
          "mark": {"type": "text", "text": "E", "font": "Liberation Serif", "fontSize": 15, "align": "left", "baseline": "middle"},
          "encoding": {
            "x": {"datum": 1.228, "type": "quantitative", "scale": {"domain": [-1.306, 1.306]}, "axis": null},
            "y": {"datum": 0, "type": "quantitative", "scale": {"domain": [-1.331, 1.331]}, "axis": null}
          }
        },
        {
          "mark": {"type": "text", "text": "W", "font": "Liberation Serif", "fontSize": 15, "align": "right", "baseline": "middle"},
          "encoding": {
            "x": {"datum": -1.306, "type": "quantitative", "scale": {"domain": [-1.306, 1.306]}, "axis": null},
            "y": {"datum": 0, "type": "quantitative", "scale": {"domain": [-1.331, 1.331]}, "axis": null}
          }
        },
        {
          "data": {"name": "right_keys"},
          "mark": {"type": "text", "fontSize": 15, "align": "right", "baseline": "middle", "dx": -4, "dy": -3},
          "encoding": {
            "x": {"field": "x1", "type": "quantitative", "scale": {"domain": [-1.306, 1.306]}, "axis": null},
            "y": {"field": "y1", "type": "quantitative", "scale": {"domain": [-1.331, 1.331]}, "axis": null},
            "text": {"field": "sep"}
          }
        },
        {
          "mark": {"type": "text", "text": "D (km)", "fontSize": 15, "align": "left", "baseline": "middle"},
          "encoding": {
            "x": {"datum": -1.782, "type": "quantitative", "scale": {"domain": [-1.306, 1.306]}, "axis": null},
            "y": {"datum": 0.806, "type": "quantitative", "scale": {"domain": [-1.331, 1.331]}, "axis": null}
          }
        }
      ]
    }
  ]
}
